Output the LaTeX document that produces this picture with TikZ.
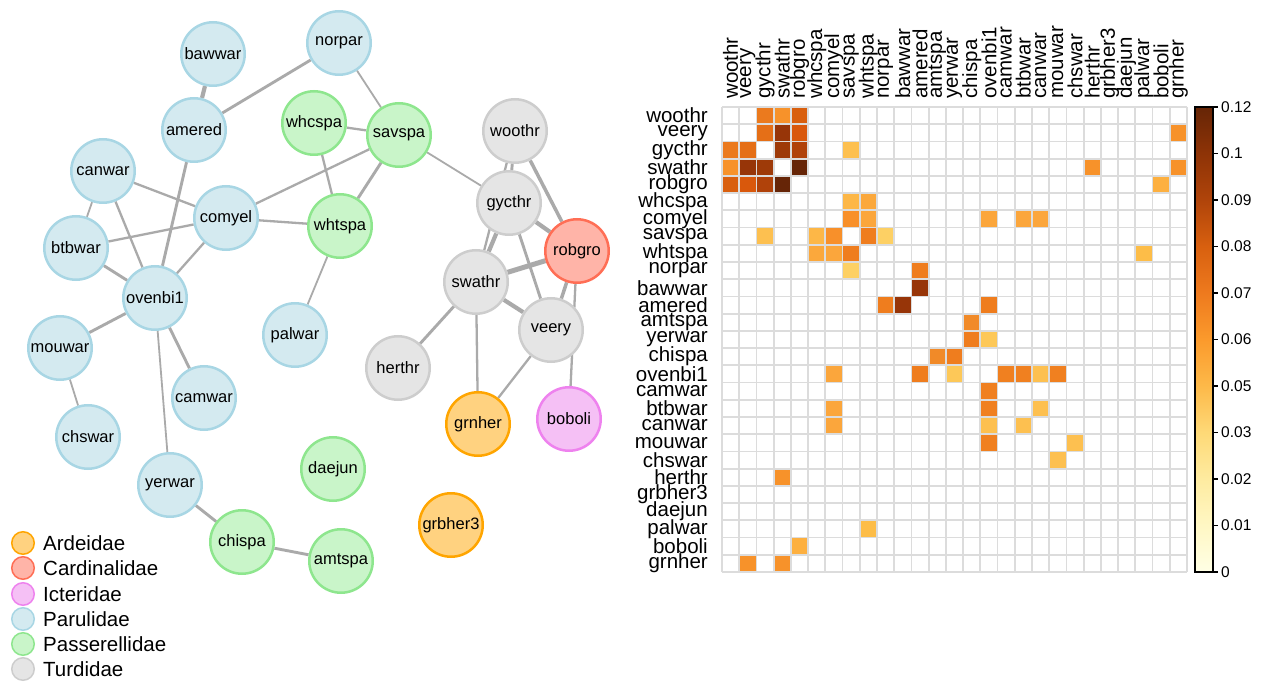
\documentclass[tikz,border=0pt]{standalone}
\usepackage{fontspec}
\setmainfont{Liberation Sans}
\newcommand\myNodeFont{\fontsize{16.5pt}{19pt}\selectfont}
\newcommand\myLabFont{\fontsize{20.5pt}{24pt}\selectfont}
\newcommand\myBarFont{\fontsize{15.5pt}{18pt}\selectfont}
\definecolor{parF}{HTML}{D4EAF0}\definecolor{parS}{HTML}{A8D6E4}
\definecolor{pasF}{HTML}{C9F5C9}\definecolor{pasS}{HTML}{8EE68E}
\definecolor{turF}{HTML}{E5E5E5}\definecolor{turS}{HTML}{CDCDCD}
\definecolor{carF}{HTML}{FFB4A8}\definecolor{carS}{HTML}{FF6E55}
\definecolor{icF}{HTML}{F5C0F5}\definecolor{icS}{HTML}{EE82EE}
\definecolor{arF}{HTML}{FFD280}\definecolor{arS}{HTML}{FFA500}
\definecolor{edgec}{HTML}{AAAAAA}
\definecolor{gridc}{HTML}{DCDCDC}
\pgfdeclarelayer{bg}
\pgfsetlayers{bg,main}
\tikzset{
  bird/.style={circle, minimum size=63.5pt, inner sep=0pt, line width=2.5pt, font=\myNodeFont},
  bpar/.style={bird, draw=parS, fill=parF},
  bpas/.style={bird, draw=pasS, fill=pasF},
  btur/.style={bird, draw=turS, fill=turF},
  bcar/.style={bird, draw=carS, fill=carF},
  bict/.style={bird, draw=icS, fill=icF},
  bard/.style={bird, draw=arS, fill=arF},
  lcirc/.style={circle, minimum size=22.5pt, inner sep=0pt, line width=1.5pt},
  ltext/.style={anchor=base west, inner sep=0pt, font=\myLabFont},
  edg/.style={draw=edgec},
  ea/.style={edg, line width=1.8pt},
  eb/.style={edg, line width=2.3pt},
  ec/.style={edg, line width=2.9pt},
  ed/.style={edg, line width=3.5pt},
  ee/.style={edg, line width=4.2pt},
  ef/.style={edg, line width=5pt},
  gridline/.style={draw=gridc, line width=1.8pt},
}
\begin{document}
\begin{tikzpicture}[x=1pt,y=-1pt]
\useasboundingbox (0,0) rectangle (1263,684);
% ---------------- network nodes
\node[bpar] (bawwar) at (213,54) {bawwar};
\node[bpar] (norpar) at (339,43) {norpar};
\node[bpar] (amered) at (194,130) {amered};
\node[bpas] (whcspa) at (314,123) {whcspa};
\node[bpas] (savspa) at (399,135) {savspa};
\node[btur] (woothr) at (515,131) {woothr};
\node[bpar] (canwar) at (103,171) {canwar};
\node[bpar] (comyel) at (226,218) {comyel};
\node[bpas] (whtspa) at (340,226) {whtspa};
\node[btur] (gycthr) at (509,203) {gycthr};
\node[bcar] (robgro) at (577,251) {robgro};
\node[bpar] (btbwar) at (76,248) {btbwar};
\node[bpar] (ovenbi1) at (155,298) {ovenbi1};
\node[btur] (swathr) at (476,282) {swathr};
\node[bpar] (mouwar) at (60,348) {mouwar};
\node[bpar] (palwar) at (295,335) {palwar};
\node[btur] (veery) at (551,330) {veery};
\node[btur] (herthr) at (398,368) {herthr};
\node[bpar] (camwar) at (204,398) {camwar};
\node[bard] (grnher) at (478,424) {grnher};
\node[bict] (boboli) at (569,419) {boboli};
\node[bpar] (chswar) at (88,437) {chswar};
\node[bpas] (daejun) at (333,469) {daejun};
\node[bpar] (yerwar) at (170,485) {yerwar};
\node[bard] (grbher3) at (451,525) {grbher3};
\node[bpas] (chispa) at (242,542) {chispa};
\node[bpas] (amtspa) at (341,561) {amtspa};
% ---------------- edges
\begin{pgfonlayer}{bg}
\draw[ee] (bawwar) -- (amered);
\draw[ec] (norpar) -- (amered);
\draw[ea] (norpar) -- (savspa);
\draw[eb] (whcspa) -- (savspa);
\draw[eb] (whcspa) -- (whtspa);
\draw[eb] (comyel) -- (savspa);
\draw[ec] (savspa) -- (whtspa);
\draw[ea] (savspa) -- (gycthr);
\draw[eb] (comyel) -- (whtspa);
\draw[eb] (comyel) -- (canwar);
\draw[eb] (comyel) -- (btbwar);
\draw[eb] (comyel) -- (ovenbi1);
\draw[ec] (amered) -- (ovenbi1);
\draw[ea] (canwar) -- (btbwar);
\draw[eb] (canwar) -- (ovenbi1);
\draw[ec] (btbwar) -- (ovenbi1);
\draw[ec] (ovenbi1) -- (mouwar);
\draw[ec] (ovenbi1) -- (camwar);
\draw[ea] (ovenbi1) -- (yerwar);
\draw[ea] (mouwar) -- (chswar);
\draw[ea] (whtspa) -- (palwar);
\draw[ec] (yerwar) -- (chispa);
\draw[ec] (chispa) -- (amtspa);
\draw[ec] (woothr) -- (gycthr);
\draw[eb] (woothr) -- (swathr);
\draw[ed] (woothr) -- (robgro);
\draw[ee] (gycthr) -- (swathr);
\draw[ee] (gycthr) -- (robgro);
\draw[ec] (gycthr) -- (veery);
\draw[ef] (swathr) -- (robgro);
\draw[ee] (swathr) -- (veery);
\draw[ec] (swathr) -- (herthr);
\draw[eb] (swathr) -- (grnher);
\draw[ed] (robgro) -- (veery);
\draw[eb] (robgro) -- (boboli);
\draw[eb] (veery) -- (grnher);
\end{pgfonlayer}
% ---------------- legend
\node[lcirc, draw=arS, fill=arF] (lg1) at (23,543) {};
\node[ltext] (lt1) at (43,550.5) {Ardeidae};
\node[lcirc, draw=carS, fill=carF] (lg2) at (23,568) {};
\node[ltext] (lt2) at (43,575.5) {Cardinalidae};
\node[lcirc, draw=icS, fill=icF] (lg3) at (23,594) {};
\node[ltext] (lt3) at (43,601.5) {Icteridae};
\node[lcirc, draw=parS, fill=parF] (lg4) at (23,619) {};
\node[ltext] (lt4) at (43,626.5) {Parulidae};
\node[lcirc, draw=pasS, fill=pasF] (lg5) at (23,644) {};
\node[ltext] (lt5) at (43,651.5) {Passerellidae};
\node[lcirc, draw=turS, fill=turF] (lg6) at (23,669) {};
\node[ltext] (lt6) at (43,676.5) {Turdidae};
% ---------------- matrix cells
\foreach \r/\c/\col in {0/2/EB7A1E,0/3/F7922A,0/4/D95F0E,1/2/E56F17,1/3/973508,1/4/D9580C,1/26/F7922A,
  2/3/9E3A08,2/4/B0420A,2/7/FDC050,3/4/662507,3/21/F7922A,3/26/F7922A,4/25/FDB040,
  5/7/FDB747,5/8/FBA83C,6/7/F8902A,6/8/FBA63C,7/8/EF7D1E,7/9/FDD064,8/24/FDBD48,
  9/11/EF7D1E,10/11/973508,11/15/EF7D1E,12/14/F18A28,13/14/EF7D1E,13/15/FDC858,
  6/15/FBA63C,6/17/FBA63C,6/18/FBA63C,15/16/F08020,15/17/F08020,15/18/FDC050,15/19/F08020,
  17/18/FDC050,19/20/FDC050}{
  \definecolor{tmpc}{HTML}{\col}
  \fill[tmpc] ({722+\c*17.22},{107+\r*17.22}) rectangle +(17.22,17.22);
  \fill[tmpc] ({722+\r*17.22},{107+\c*17.22}) rectangle +(17.22,17.22);
}
\foreach \k in {0,...,27}{
  \draw[gridline] ({722+\k*17.22},107) -- ({722+\k*17.22},{107+27*17.22});
  \draw[gridline] (722,{107+\k*17.22}) -- ({722+27*17.22},{107+\k*17.22});
}
% ---------------- matrix labels
\foreach \n [count=\i from 0] in {woothr,veery,gycthr,swathr,robgro,whcspa,comyel,savspa,whtspa,norpar,bawwar,amered,amtspa,yerwar,chispa,ovenbi1,camwar,btbwar,canwar,mouwar,chswar,herthr,grbher3,daejun,palwar,boboli,grnher}{
  \node[anchor=east, inner sep=0pt, font=\myLabFont] (r\i) at (708,{107+(\i+0.5)*17.22}) {\n};
  \node[rotate=90, anchor=west, inner sep=0pt, font=\myLabFont] (c\i) at ({722+(\i+0.5)*17.22},99) {\n};
}
% ---------------- colour bar
\foreach \i/\ca/\cb in {0/FFFFE5/FFF7C4,1/FFF7C4/FEEBA0,2/FEEBA0/FED977,3/FED977/FDB949,4/FDB949/FB9A2C,
  5/FB9A2C/EE7A1E,6/EE7A1E/D8600F,7/D8600F/B0440A,8/B0440A/8E3306,9/8E3306/662506}{
  \definecolor{cba}{HTML}{\ca}\definecolor{cbb}{HTML}{\cb}
  \shade[bottom color=cba, top color=cbb] (1195,{572-\i*46.5}) rectangle (1213,{572-(\i+1)*46.5});
}
\draw[black, line width=1.2pt] (1195,107) rectangle (1213,572);
\foreach \v [count=\i from 0] in {0,0.01,0.02,0.03,0.05,0.06,0.07,0.08,0.09,0.1,0.12}{
  \draw[black, line width=1.2pt] (1213,{572-\i*46.5}) -- (1217.5,{572-\i*46.5});
  \node[anchor=west, inner sep=0pt, font=\myBarFont] (t\i) at (1221,{572-\i*46.5}) {\v};
}
\end{tikzpicture}
\end{document}
